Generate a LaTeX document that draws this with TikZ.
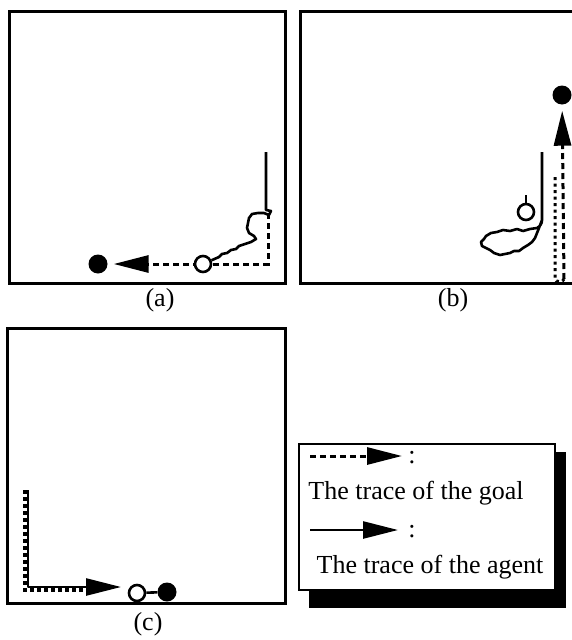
\documentclass[tikz,border=0pt]{standalone}
\usepackage{fontspec}
\setmainfont{Liberation Serif}
\usetikzlibrary{arrows.meta,backgrounds}
\tikzset{
  frame/.style={line width=3pt},
  goalpt/.style={circle, fill=black, minimum size=19pt, inner sep=0pt},
  agentpt/.style={circle, draw, fill=white, line width=2.6pt, minimum size=16pt, inner sep=0pt},
  goaltrace/.style={line width=3pt, dash pattern=on 6pt off 4pt},
  goaldots/.style={line width=3pt, dash pattern=on 3pt off 3.5pt},
  agenttrace/.style={line width=2.6pt, line join=round},
  bigtip/.style={-{Triangle[length=35pt,width=17pt]}},
  lbl/.style={font=\fontsize{26}{30}\selectfont, inner sep=0pt}
}
\begin{document}
\begin{tikzpicture}[x=1pt,y=-1pt]
\useasboundingbox (0,0) rectangle (572,640);
% ---------- frames ----------
\draw[frame] (9,11) rectangle (285,283);
\draw[frame] (572,11) -- (300,11) -- (300,283) -- (572,283);
\draw[frame] (7,328) rectangle (285,603);
% ---------- panel (a) ----------
\node[goalpt] (ga) at (98,264) {};
\node[agentpt] (aa) at (203,264) {};
\coordinate (ga0) at (268,213);
\coordinate (aa0) at (266,152);
\begin{pgfonlayer}{background}
\draw[goaltrace, bigtip, shorten >=6pt] (ga0) -- (268,264) -- (ga.east);
\draw[agenttrace] (aa0) -- (266,210) -- (271,211) -- (269,215) -- (264,213) -- (258,213)
  -- (252,214) -- (249,218) -- (248,223) -- (247,228) -- (249,233) -- (254,236)
  -- (256,239) -- (251,242) -- (245,244) -- (239,246) -- (236,249) -- (231,250)
  -- (227,253) -- (222,254) -- (219,257) -- (aa);
\end{pgfonlayer}
\node[lbl] (la) at (160,300) {(a)};
% ---------- panel (b) ----------
\node[goalpt] (gb) at (562,95) {};
\node[agentpt] (ab) at (526,212) {};
\coordinate (gb0) at (555,177);
\coordinate (gb1) at (555,279);
\coordinate (gb2) at (564,279);
\coordinate (ab0) at (542,152);
\begin{pgfonlayer}{background}
\draw[goaldots] (gb0) -- (gb1) to[out=-90,in=-90] (gb2);
\draw[goaltrace, bigtip, shorten >=6pt] (gb2) -- (gb);
\draw[agenttrace] (ab0) -- (542,220) to[out=-90,in=30] (537,228)
  -- (530,229) -- (523,231) -- (517,229) -- (510,231) -- (503,230) -- (497,232)
  -- (491,233) -- (486,236) -- (484,239) -- (481,242) -- (482,246) -- (486,248)
  -- (490,250) -- (494,253) -- (500,255) -- (505,254) -- (510,253) -- (514,251)
  -- (519,251) -- (523,248) -- (528,245) -- (532,242) -- (535,238) -- (537,233)
  -- (539,228) -- (542,220);
\end{pgfonlayer}
\draw[agenttrace] (ab.north) -- ++(0,-8);
\node[lbl] (lb) at (453,300) {(b)};
% ---------- panel (c) ----------
\node[goalpt] (gc) at (167,592) {};
\node[agentpt] (ac) at (137,593) {};
\coordinate (cs0) at (28,490);
\coordinate (cs1) at (28,587);
\coordinate (ctip) at (121,587);
\coordinate (cg0) at (25,490);
\coordinate (cg1) at (25,590);
\coordinate (cg2) at (86,590);
\begin{pgfonlayer}{background}
\draw[goaltrace, line width=3.4pt, dash pattern=on 4pt off 3pt] (cg0) -- (cg1) -- (cg2);
\draw[agenttrace, bigtip] (cs0) -- (cs1) -- (ctip);
\draw[agenttrace] (ac) -- (gc);
\end{pgfonlayer}
\node[lbl] (lc) at (148,624) {(c)};
% ---------- legend ----------
\fill[black] (309,452) rectangle (566,608);
\draw[line width=2.4pt, fill=white] (299,444) rectangle (555,590);
\coordinate (l1a) at (310,456);
\coordinate (l1b) at (402,456);
\coordinate (l2a) at (310,530);
\coordinate (l2b) at (398,530);
\draw[goaltrace, bigtip] (l1a) -- (l1b);
\draw[agenttrace, bigtip] (l2a) -- (l2b);
\node[lbl] (c1) at (412,458) {:};
\node[lbl] (c2) at (412,532) {:};
\node[lbl] (t1) at (416,493) {The trace of the goal};
\node[lbl] (t2) at (430,567) {The trace of the agent};
\end{tikzpicture}
\end{document}
